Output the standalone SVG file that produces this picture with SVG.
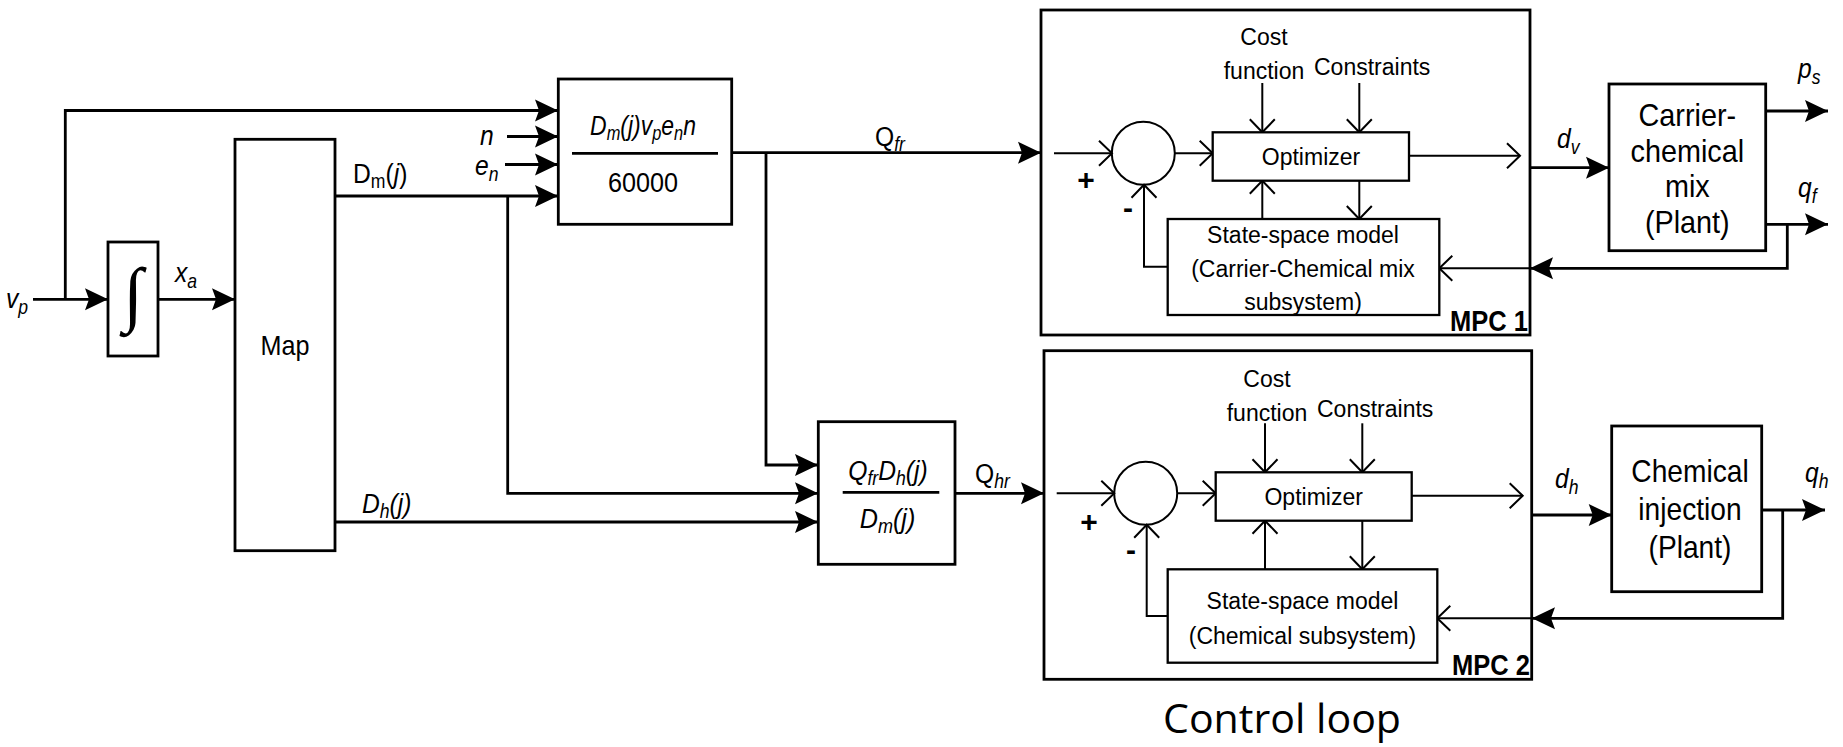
<svg xmlns="http://www.w3.org/2000/svg" width="1843" height="747" viewBox="0 0 1843 747">
<style>
.bg{fill:#fff}
.ln{fill:none;stroke:#000;stroke-width:2.8}
.il{fill:none;stroke:#000;stroke-width:2}
.bx{fill:#fff;stroke:#000;stroke-width:2.8}
.fr{fill:none;stroke:#000;stroke-width:2.8}
.ib{fill:#fff;stroke:#000;stroke-width:2.3}
.m{font-family:"Liberation Sans",Arial,sans-serif;font-size:28px;fill:#000}
.i{font-style:italic}
.s{font-size:20px}
.t{font-family:"Liberation Sans",Arial,sans-serif;font-size:23px;fill:#000}
.p{font-family:"Liberation Sans",Arial,sans-serif;font-size:32px;fill:#000}
.b{font-family:"Liberation Sans",Arial,sans-serif;font-weight:bold;fill:#000}
.c{font-family:"Open Sans","Noto Sans",sans-serif;font-size:40px;fill:#000}
</style>
<defs>
<marker id="fa" markerUnits="userSpaceOnUse" markerWidth="26" markerHeight="24" refX="23" refY="11" orient="auto" overflow="visible">
<path d="M0,0 L23,11 L0,22 L4,11 Z" fill="#000"/>
</marker>
<marker id="oa" markerUnits="userSpaceOnUse" markerWidth="16" markerHeight="28" refX="13" refY="12.5" orient="auto" overflow="visible">
<path d="M0,0 L13,12.5 L0,25" fill="none" stroke="#000" stroke-width="2"/>
</marker>
</defs>
<rect class="bg" x="0" y="0" width="1843" height="747"/>

<g id="connectors">
<path class="ln" d="M33,299.3 H108" marker-end="url(#fa)"/>
<path class="ln" d="M65.3,299.3 V110.5 H558" marker-end="url(#fa)"/>
<path class="ln" d="M158,299.3 H235" marker-end="url(#fa)"/>
<path class="ln" d="M335,196 H558" marker-end="url(#fa)"/>
<path class="ln" d="M507.7,196 V493.3 H818" marker-end="url(#fa)"/>
<path class="ln" d="M507,136.5 H558" marker-end="url(#fa)"/>
<path class="ln" d="M505,164.5 H558" marker-end="url(#fa)"/>
<path class="ln" d="M335,522 H818" marker-end="url(#fa)"/>
<path class="ln" d="M731.7,152.7 H1041" marker-end="url(#fa)"/>
<path class="ln" d="M766,152.7 V465 H818" marker-end="url(#fa)"/>
<path class="ln" d="M955,493.3 H1044" marker-end="url(#fa)"/>
<path class="ln" d="M1530,167.7 H1609" marker-end="url(#fa)"/>
<path class="ln" d="M1765.7,111 H1828" marker-end="url(#fa)"/>
<path class="ln" d="M1765.7,224.3 H1828" marker-end="url(#fa)"/>
<path class="ln" d="M1787.3,224.3 V268.3 H1530" marker-end="url(#fa)"/>
<path class="ln" d="M1532,515 H1611.7" marker-end="url(#fa)"/>
<path class="ln" d="M1761.7,510 H1825" marker-end="url(#fa)"/>
<path class="ln" d="M1782.7,510 V618.3 H1532" marker-end="url(#fa)"/>
<path class="il" d="M1054,153.3 H1112" marker-end="url(#oa)"/>
<path class="il" d="M1175,153.3 H1212.7" marker-end="url(#oa)"/>
<path class="il" d="M1409,155.7 H1520" marker-end="url(#oa)"/>
<path class="il" d="M1262.3,83 V132.3" marker-end="url(#oa)"/>
<path class="il" d="M1359.3,83 V132.3" marker-end="url(#oa)"/>
<path class="il" d="M1359.3,180.7 V219" marker-end="url(#oa)"/>
<path class="il" d="M1262.3,219 V180.7" marker-end="url(#oa)"/>
<path class="il" d="M1167.7,266.7 H1144 V184.8" marker-end="url(#oa)"/>
<path class="il" d="M1530,268.3 H1439.3" marker-end="url(#oa)"/>
<path class="il" d="M1056.7,493.3 H1114.3" marker-end="url(#oa)"/>
<path class="il" d="M1177.2,493.3 H1215.7" marker-end="url(#oa)"/>
<path class="il" d="M1411.7,495.7 H1522.7" marker-end="url(#oa)"/>
<path class="il" d="M1265,423.3 V472.3" marker-end="url(#oa)"/>
<path class="il" d="M1362.3,423.3 V472.3" marker-end="url(#oa)"/>
<path class="il" d="M1362.3,520.7 V569.3" marker-end="url(#oa)"/>
<path class="il" d="M1265,569.3 V520.7" marker-end="url(#oa)"/>
<path class="il" d="M1167.7,616 H1146.7 V524.8" marker-end="url(#oa)"/>
<path class="il" d="M1532,618.3 H1437.3" marker-end="url(#oa)"/>
</g>

<g id="labels">
<text class="m i" transform="translate(6 308) scale(.88 1)">v<tspan class="s" dy="6">p</tspan></text>
<text class="m i" transform="translate(175 282) scale(.88 1)">x<tspan class="s" dy="6">a</tspan></text>
<text class="m" transform="translate(353 183) scale(.88 1)">D<tspan class="s" dy="5">m</tspan><tspan dy="-5">(</tspan><tspan class="i">j</tspan>)</text>
<text class="m i" transform="translate(480 145) scale(.88 1)">n</text>
<text class="m i" transform="translate(475 175) scale(.88 1)">e<tspan class="s" dy="6">n</tspan></text>
<text class="m i" transform="translate(362 513) scale(.88 1)">D<tspan class="s" dy="5">h</tspan><tspan dy="-5">(j)</tspan></text>
<text class="m" transform="translate(875 146) scale(.88 1)">Q<tspan class="s i" dy="5">fr</tspan></text>
<text class="m" transform="translate(975 483) scale(.88 1)">Q<tspan class="s i" dy="5">hr</tspan></text>
<text class="m i" transform="translate(1557 148) scale(.88 1)">d<tspan class="s" dy="6">v</tspan></text>
<text class="m i" transform="translate(1798 78) scale(.88 1)">p<tspan class="s" dy="6">s</tspan></text>
<text class="m i" transform="translate(1798 197) scale(.88 1)">q<tspan class="s" dy="6">f</tspan></text>
<text class="m i" transform="translate(1555 488) scale(.88 1)">d<tspan class="s" dy="6">h</tspan></text>
<text class="m i" transform="translate(1805 482) scale(.88 1)">q<tspan class="s" dy="6">h</tspan></text>
<text class="c" x="1282" y="733" text-anchor="middle" textLength="238" lengthAdjust="spacingAndGlyphs">Control loop</text>
</g>

<g id="integrator">
<rect class="bx" x="108" y="242" width="50" height="114"/>
<text x="133" y="318" text-anchor="middle" font-family="Liberation Serif,serif" font-size="72">∫</text>
</g>

<g id="map">
<rect class="bx" x="235" y="139.3" width="100" height="411.4"/>
<text class="m" transform="translate(285 355) scale(.9 1)" text-anchor="middle" font-size="29">Map</text>
</g>

<g id="qfr-block">
<rect class="bx" x="558.3" y="79" width="173.4" height="145.3"/>
<line class="ln" x1="572" y1="153.3" x2="718" y2="153.3"/>
<text class="m i" transform="translate(643 135) scale(.82 1)" text-anchor="middle">D<tspan class="s" dy="5">m</tspan><tspan dy="-5">(j)v</tspan><tspan class="s" dy="5">p</tspan><tspan dy="-5">e</tspan><tspan class="s" dy="5">n</tspan><tspan dy="-5">n</tspan></text>
<text class="m" transform="translate(643 191.7) scale(.9 1)" text-anchor="middle">60000</text>
</g>

<g id="qhr-block">
<rect class="bx" x="818.3" y="421.7" width="136.7" height="142.6"/>
<line class="ln" x1="842.7" y1="492.3" x2="939.3" y2="492.3"/>
<text class="m i" transform="translate(888 480) scale(.88 1)" text-anchor="middle">Q<tspan class="s" dy="5">fr</tspan><tspan dy="-5">D</tspan><tspan class="s" dy="5">h</tspan><tspan dy="-5">(j)</tspan></text>
<text class="m i" transform="translate(887.5 528) scale(.9 1)" text-anchor="middle">D<tspan class="s" dy="5">m</tspan><tspan dy="-5">(j)</tspan></text>
</g>

<g id="mpc1">
<rect class="fr" x="1041" y="10" width="489" height="325"/>
<circle class="il" cx="1143.3" cy="153.3" r="31.5"/>
<text class="b" x="1086" y="190" font-size="30" text-anchor="middle">+</text>
<text class="b" x="1128" y="218" font-size="30" text-anchor="middle">-</text>
<rect class="ib" x="1212.7" y="132.3" width="196.3" height="48.4"/>
<text class="t" x="1311" y="165" text-anchor="middle">Optimizer</text>
<text class="t" x="1264" y="45" text-anchor="middle">Cost</text>
<text class="t" x="1264" y="79" text-anchor="middle">function</text>
<text class="t" x="1314" y="75">Constraints</text>
<rect class="ib" x="1167.7" y="219" width="271.6" height="96"/>
<text class="t" x="1303" y="242.7" text-anchor="middle">State-space model</text>
<text class="t" x="1303" y="276.7" text-anchor="middle">(Carrier-Chemical mix</text>
<text class="t" x="1303" y="310" text-anchor="middle">subsystem)</text>
<text class="b" transform="translate(1528 331) scale(.85 1)" font-size="30" text-anchor="end">MPC 1</text>
</g>

<g id="mpc2">
<rect class="fr" x="1044" y="350.7" width="487.7" height="328.6"/>
<circle class="il" cx="1145.7" cy="493.3" r="31.5"/>
<text class="b" x="1089" y="532" font-size="30" text-anchor="middle">+</text>
<text class="b" x="1131" y="560" font-size="30" text-anchor="middle">-</text>
<rect class="ib" x="1215.7" y="472.3" width="196" height="48.4"/>
<text class="t" x="1313.7" y="505" text-anchor="middle">Optimizer</text>
<text class="t" x="1267" y="386.7" text-anchor="middle">Cost</text>
<text class="t" x="1267" y="421" text-anchor="middle">function</text>
<text class="t" x="1317" y="417.3">Constraints</text>
<rect class="ib" x="1167.7" y="569.3" width="269.6" height="93.4"/>
<text class="t" x="1302.5" y="609.3" text-anchor="middle">State-space model</text>
<text class="t" x="1302.5" y="644" text-anchor="middle">(Chemical subsystem)</text>
<text class="b" transform="translate(1530 675) scale(.85 1)" font-size="30" text-anchor="end">MPC 2</text>
</g>

<g id="plant1">
<rect class="bx" x="1609" y="84" width="156.7" height="166.7"/>
<text class="p" transform="translate(1687.3 126) scale(.9 1)" text-anchor="middle">Carrier-</text>
<text class="p" transform="translate(1687.3 161.7) scale(.9 1)" text-anchor="middle">chemical</text>
<text class="p" transform="translate(1687.3 196.7) scale(.9 1)" text-anchor="middle">mix</text>
<text class="p" transform="translate(1687.3 233.3) scale(.9 1)" text-anchor="middle">(Plant)</text>
</g>

<g id="plant2">
<rect class="bx" x="1611.7" y="426" width="150" height="165.7"/>
<text class="p" transform="translate(1690 481.7) scale(.88 1)" text-anchor="middle" font-size="31">Chemical</text>
<text class="p" transform="translate(1690 520) scale(.88 1)" text-anchor="middle" font-size="31">injection</text>
<text class="p" transform="translate(1690 557.7) scale(.88 1)" text-anchor="middle" font-size="31">(Plant)</text>
</g>
</svg>
